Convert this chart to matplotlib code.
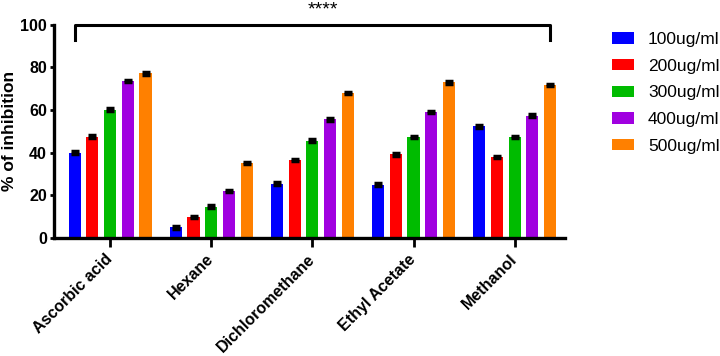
import numpy as np
import matplotlib.pyplot as plt
import matplotlib.transforms as mtransforms
from matplotlib.patches import Patch

plt.rcParams['font.family'] = ['Liberation Sans', 'DejaVu Sans']

categories = ["Ascorbic acid", "Hexane", "Dichloromethane", "Ethyl Acetate", "Methanol"]
series = ["100ug/ml", "200ug/ml", "300ug/ml", "400ug/ml", "500ug/ml"]
colors = ["#0000FF", "#FF0000", "#00BB00", "#A000E0", "#FF8000"]

v100 = [40.0, 5.0, 25.5, 25.0, 52.3]
v200 = [47.5, 10.0, 36.5, 39.3, 37.9]
v300 = [60.2, 14.8, 45.6, 47.3, 47.3]
v400 = [73.6, 22.0, 55.6, 59.0, 57.3]
v500 = [77.2, 35.2, 68.0, 73.0, 71.8]
err = [0.6, 0.6, 0.6, 0.6, 0.6]

values = [v100, v200, v300, v400, v500]

fig = plt.figure(figsize=(7.2, 3.56), dpi=100)
ax = fig.add_axes([0.075, 0.331, 0.71, 0.6])

x = np.arange(len(categories))
pitch = 0.175
width = 0.12
for i, (vals, c) in enumerate(zip(values, colors)):
    ax.bar(x + (i - 2) * pitch, vals, width, color=c, zorder=2)
    ax.errorbar(x + (i - 2) * pitch, vals, yerr=err, fmt='none', ecolor='black',
                elinewidth=1.5, capsize=3, capthick=2.5, zorder=3)

ax.set_xlim(-0.555, 4.5)
ax.set_ylim(0, 100)
ax.set_yticks([0, 20, 40, 60, 80, 100])
ax.set_xticks(x)
ax.set_xticklabels(categories, rotation=45, ha='right', va='center',
                   rotation_mode='anchor', fontsize=11.5, fontweight='bold')
shift = mtransforms.ScaledTranslation(3 / 72, -2 / 72, fig.dpi_scale_trans)
for lab in ax.get_xticklabels():
    lab.set_transform(lab.get_transform() + shift)
for lab in ax.get_yticklabels():
    lab.set_fontweight('bold')
ax.tick_params(axis='y', labelsize=11.5, width=2, length=3, pad=2)
ax.tick_params(axis='x', width=2, length=6.5, pad=7)
ax.set_ylabel("% of inhibition", fontsize=12.5, fontweight='bold')
ax.yaxis.set_label_coords(-0.072, 0.5)
for s in ['top', 'right']:
    ax.spines[s].set_visible(False)
for s in ['left', 'bottom']:
    ax.spines[s].set_linewidth(2.4)

# significance bracket
bx0, bx1 = -0.35, 4.35
ax.plot([bx0, bx0, bx1, bx1], [93, 100, 100, 93], color='black', lw=2.2, clip_on=False)
ax.text(2.1, 107, "****", ha='center', va='center', fontsize=14, clip_on=False)

handles = [Patch(facecolor=c, label=s) for c, s in zip(colors, series)]
fig.legend(handles=handles, loc='upper left', bbox_to_anchor=(0.85, 0.91),
           frameon=False, fontsize=12.5, handlelength=1.27, handleheight=0.63,
           labelspacing=0.67, handletextpad=0.8, borderpad=0, borderaxespad=0)

fig.savefig("out.png", dpi=100)
